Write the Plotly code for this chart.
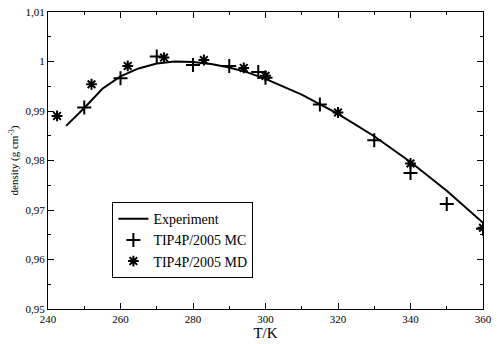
import plotly.graph_objects as go

# Experimental density curve
exp_T = [245, 250, 255, 260, 265, 270, 275, 277, 280, 285, 290, 295, 300, 310, 320, 330, 340, 350, 360]
exp_rho = [0.9870, 0.9906, 0.9945, 0.9970, 0.9986, 0.9996, 1.0000, 1.0000, 0.9999, 0.9995,
           0.9988, 0.9978, 0.9965, 0.9933, 0.9894, 0.9849, 0.9797, 0.9739, 0.9674]

# TIP4P/2005 Monte Carlo
mc_T = [250, 260, 270, 280, 290, 298, 300, 315, 330, 340, 350, 360]
mc_rho = [0.9907, 0.9966, 1.0010, 0.9993, 0.9991, 0.9979, 0.9967, 0.9913, 0.9841, 0.9775, 0.9712, 0.9662]

# TIP4P/2005 Molecular dynamics
md_T = [242.5, 252, 262, 272, 283, 294, 300, 320, 340, 360]
md_rho = [0.9890, 0.9954, 0.9991, 1.0008, 1.0003, 0.9987, 0.9971, 0.9897, 0.9794, 0.9664]

x_ticks = [240, 260, 280, 300, 320, 340, 360]
y_ticks = [0.95, 0.96, 0.97, 0.98, 0.99, 1.00, 1.01]
y_labels = ["0,95", "0,96", "0,97", "0,98", "0,99", "1", "1,01"]

FONT = "Times New Roman, Liberation Serif, DejaVu Serif, serif"

fig = go.Figure()

fig.add_trace(go.Scatter(
    x=exp_T, y=exp_rho, mode="lines", name="Experiment",
    line=dict(color="black", width=2),
))
fig.add_trace(go.Scatter(
    x=mc_T, y=mc_rho, mode="markers", name="TIP4P/2005 MC",
    marker=dict(symbol="cross-thin", size=10, color="black",
                line=dict(color="black", width=2)),
))
fig.add_trace(go.Scatter(
    x=md_T, y=md_rho, mode="markers", name="TIP4P/2005 MD",
    marker=dict(symbol="asterisk", size=9, color="black",
                line=dict(color="black", width=2)),
))

axis_common = dict(
    showline=True, linecolor="black", linewidth=1, mirror="allticks",
    ticks="inside", ticklen=6, tickcolor="black", showgrid=False, zeroline=False,
    tickfont=dict(family=FONT, size=11, color="black"),
)

fig.update_layout(
    width=498, height=344,
    paper_bgcolor="white", plot_bgcolor="white",
    margin=dict(l=48, r=11, t=6, b=30),
    font=dict(family=FONT, color="black"),
    xaxis=dict(
        range=[240, 360], tickvals=x_ticks,
        minor=dict(dtick=10, ticklen=3, ticks="inside", tickcolor="black"),
        title=dict(text="T/K", font=dict(family=FONT, size=15), standoff=2),
        **axis_common,
    ),
    yaxis=dict(
        range=[0.95, 1.01], tickvals=y_ticks, ticktext=y_labels,
        minor=dict(dtick=0.005, ticklen=3, ticks="inside", tickcolor="black"),
        title=dict(text="density (g cm<sup>-3</sup>)", font=dict(family=FONT, size=11), standoff=4),
        **axis_common,
    ),
    showlegend=True,
    legend=dict(
        x=0.148, y=0.36, xanchor="left", yanchor="top",
        bgcolor="white", bordercolor="black", borderwidth=1,
        font=dict(family=FONT, size=14, color="black"),
        tracegroupgap=0, itemwidth=30,
    ),
)

fig.write_html("out.html", config={"displayModeBar": False},
               post_script="document.body.style.margin='0';")
